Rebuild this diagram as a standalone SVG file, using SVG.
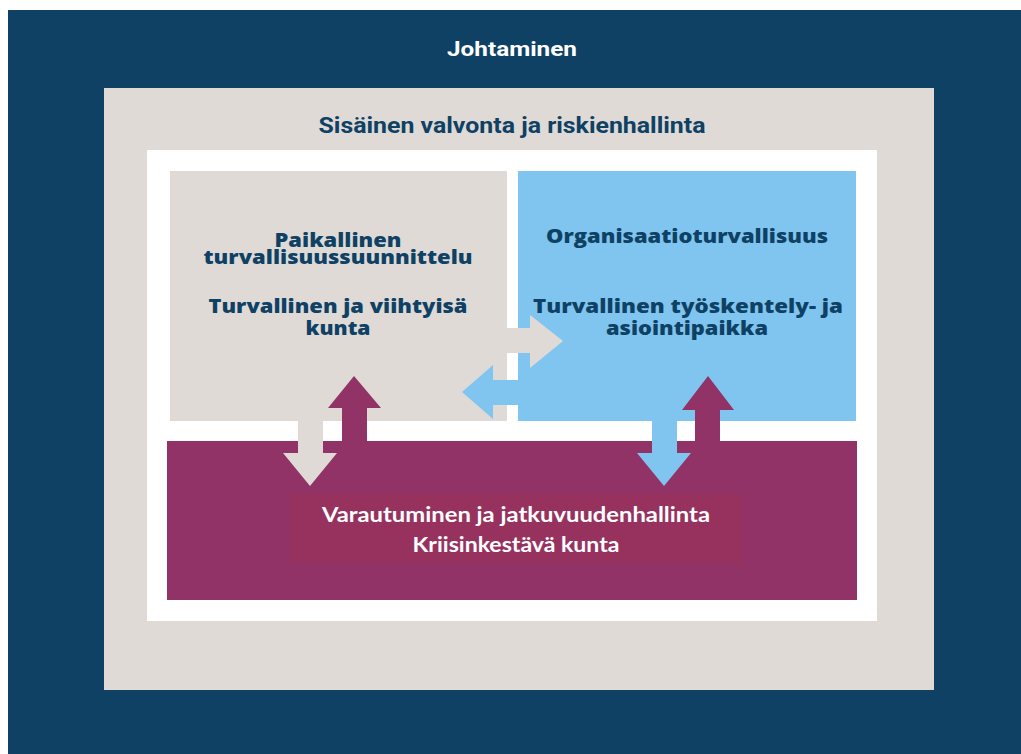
<svg xmlns="http://www.w3.org/2000/svg" width="1021" height="754" viewBox="0 0 1021 754">
<style>
.t{font-family:"Open Sans","Liberation Sans",sans-serif;font-weight:800;font-size:19.5px;fill:#0e4164;text-anchor:middle}
.c{font-family:"Roboto","Liberation Sans",sans-serif;font-weight:700;text-anchor:middle}
.w{font-family:"Lato","Open Sans","Liberation Sans",sans-serif;font-weight:700;font-size:21px;fill:#ffffff;text-anchor:middle}
.gray{fill:#dfdad6}
.blue{fill:#7fc5ef}
.purple{fill:#913366}
</style>
<rect x="0" y="0" width="1021" height="754" fill="#ffffff"/>
<g id="johtaminen">
<rect x="8" y="10" width="1013" height="744" fill="#0e4164"/>
<text class="c" x="512" y="56" font-size="20" fill="#ffffff" textLength="130" lengthAdjust="spacingAndGlyphs">Johtaminen</text>
</g>
<g id="sisainen-valvonta">
<rect x="104" y="88" width="830" height="602" class="gray"/>
<text class="c" x="512" y="133" font-size="21.5" fill="#0e4164" textLength="387" lengthAdjust="spacingAndGlyphs">Sisäinen valvonta ja riskienhallinta</text>
</g>
<g id="white-area">
<rect x="147" y="150" width="730" height="471" fill="#ffffff"/>
</g>
<g id="paikallinen">
<rect x="170" y="171" width="337" height="250" class="gray"/>
<text class="t" x="338" y="247" textLength="127" lengthAdjust="spacingAndGlyphs">Paikallinen</text>
<text class="t" x="338" y="264" textLength="269" lengthAdjust="spacingAndGlyphs">turvallisuussuunnittelu</text>
<text class="t" x="338" y="313" textLength="259" lengthAdjust="spacingAndGlyphs">Turvallinen ja viihtyisä</text>
<text class="t" x="338" y="335" textLength="65" lengthAdjust="spacingAndGlyphs">kunta</text>
</g>
<g id="organisaatioturvallisuus">
<rect x="518" y="171" width="338" height="250" class="blue"/>
<text class="t" x="687" y="243" textLength="282" lengthAdjust="spacingAndGlyphs">Organisaatioturvallisuus</text>
<text class="t" x="688" y="313" textLength="310" lengthAdjust="spacingAndGlyphs">Turvallinen työskentely- ja</text>
<text class="t" x="687" y="335" textLength="162" lengthAdjust="spacingAndGlyphs">asiointipaikka</text>
</g>
<g id="varautuminen">
<rect x="167" y="441" width="690" height="159" class="purple"/>
<rect x="290" y="494" width="453" height="69" fill="#97325f"/>
<text class="w" x="516" y="522" textLength="388" lengthAdjust="spacingAndGlyphs">Varautuminen ja jatkuvuudenhallinta</text>
<text class="w" x="516" y="552" textLength="207" lengthAdjust="spacingAndGlyphs">Kriisinkestävä kunta</text>
</g>
<g id="connectors" stroke-linejoin="round">
<path class="gray" d="M507,328 H530 V315 L563,341 L530,368 V353 H507 Z"/>
<path class="blue" d="M518,380 H493 V365 L462,392 L493,419 V405 H518 Z"/>
<path class="purple" d="M342,441 V408 H328 L354,376 L381,408 H367 V441 Z"/>
<path class="gray" d="M298,421 V453 H283 L310,486 L337,453 H323 V421 Z"/>
<path class="blue" d="M652,421 V453 H637 L664,486 L691,453 H677 V421 Z"/>
<path class="purple" d="M695,441 V410 H682 L708,376 L734,410 H720 V441 Z"/>
</g>
</svg>
